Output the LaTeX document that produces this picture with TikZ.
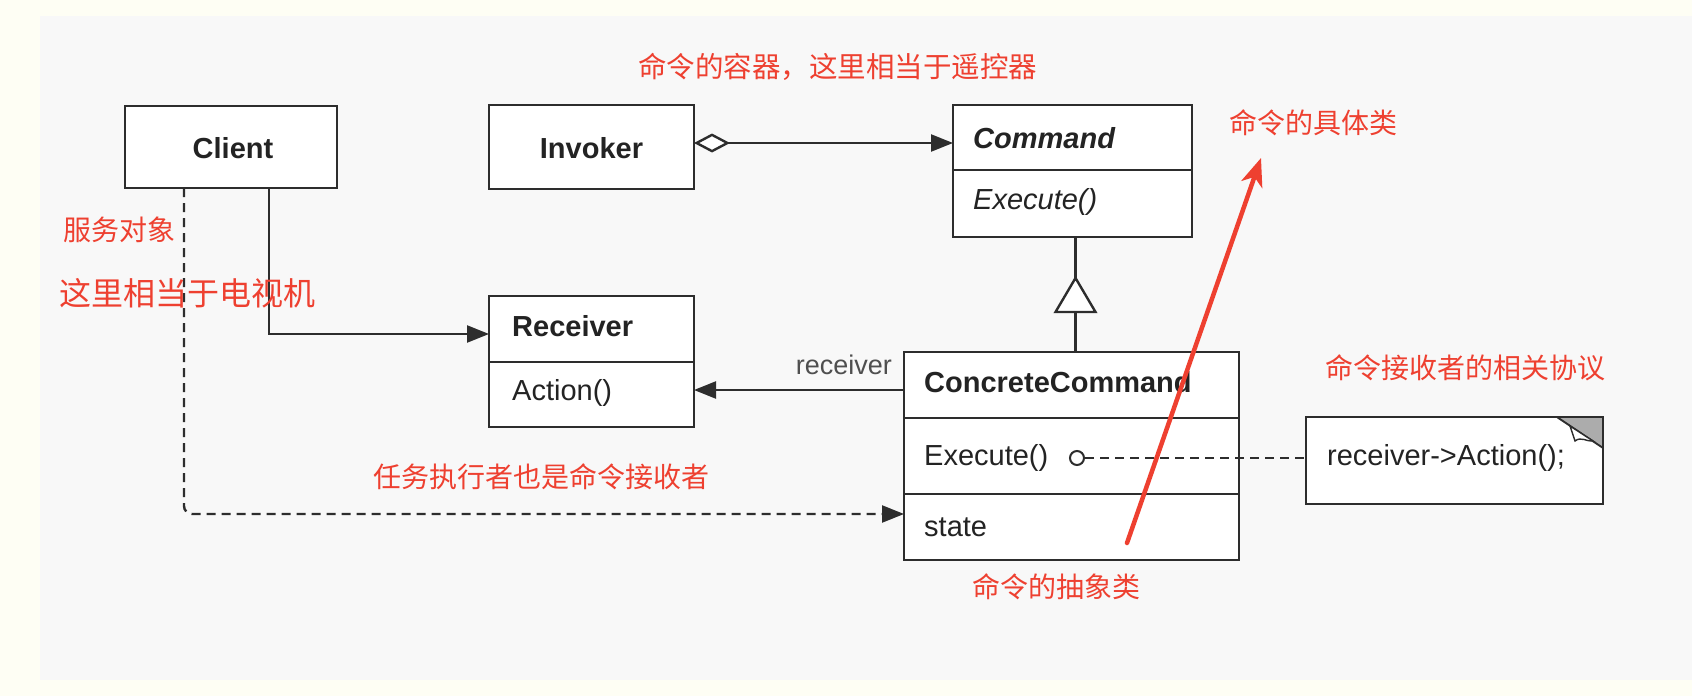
\documentclass[tikz,border=0pt]{standalone}
\usepackage{fontspec}
\setmainfont{Liberation Sans}
\newfontfamily\cjk{Noto Sans CJK SC}
\usetikzlibrary{arrows.meta,calc}
\definecolor{cream}{RGB}{254,254,244}
\definecolor{panel}{RGB}{248,248,248}
\definecolor{umlline}{RGB}{45,45,45}
\definecolor{umltext}{RGB}{35,35,35}
\definecolor{notered}{RGB}{238,64,48}
\definecolor{eargray}{RGB}{172,172,172}
\begin{document}
\begin{tikzpicture}[x=1pt,y=-1pt,
  cls/.style={draw=umlline,line width=2.4pt,fill=white,inner sep=0pt,outer sep=0pt,anchor=north west},
  lbl/.style={inner sep=0pt,anchor=west,text=umltext,font=\fontsize{29}{32}\selectfont},
  lblb/.style={inner sep=0pt,anchor=west,text=umltext,font=\bfseries\fontsize{29}{32}\selectfont},
  cn/.style={inner sep=0pt,anchor=west,text=notered,font=\cjk\fontsize{28}{32}\selectfont},
  conn/.style={draw=umlline,line width=2.4pt},
  nav/.style={-{Triangle[length=22pt,width=17pt]}},
  dsh/.style={dash pattern=on 9pt off 6pt},
]
\fill[cream] (0,0) rectangle (1692,696);
\fill[panel] (40,16) rectangle (1692,680);
\useasboundingbox (0,0) rectangle (1692,696);

% classes
\node[cls,minimum width=212pt,minimum height=82pt] (client) at (125,106) {};
\node[lblb,anchor=center] at ($(client.center)+(2,1)$) {Client};

\node[cls,minimum width=205pt,minimum height=84pt] (invoker) at (489,105) {};
\node[lblb,anchor=center] at ($(invoker.center)+(0,1)$) {Invoker};

\node[cls,minimum width=239pt,minimum height=132pt] (command) at (953,105) {};
\draw[conn] ($(command.north west)+(0,65)$) -- ($(command.north east)+(0,65)$);
\node[lblb,font=\bfseries\itshape\fontsize{29}{32}\selectfont] at ($(command.north west)+(20,33)$) {Command};
\node[lbl,font=\itshape\fontsize{29}{32}\selectfont] at ($(command.north west)+(20,97)$) {Execute()};

\node[cls,minimum width=205pt,minimum height=131pt] (receiver) at (489,296) {};
\draw[conn] ($(receiver.north west)+(0,66)$) -- ($(receiver.north east)+(0,66)$);
\node[lblb] at ($(receiver.north west)+(23,30)$) {Receiver};
\node[lbl] at ($(receiver.north west)+(23,97)$) {Action()};

\node[cls,minimum width=335pt,minimum height=208pt] (concrete) at (904,352) {};
\draw[conn] ($(concrete.north west)+(0,66)$) -- ($(concrete.north east)+(0,66)$);
\draw[conn] ($(concrete.north west)+(0,142)$) -- ($(concrete.north east)+(0,142)$);
\node[lblb] at ($(concrete.north west)+(20,30)$) {ConcreteCommand};
\node[lbl] at ($(concrete.north west)+(20,106)$) {Execute()};
\node[lbl] at ($(concrete.north west)+(20,175)$) {state};

% note
\node[cls,minimum width=297pt,minimum height=87pt] (note) at (1306,417) {};
\fill[eargray] ($(note.north east)+(-46,1.2)$) -- ($(note.north east)+(-1.2,1.2)$) -- ($(note.north east)+(-1.2,31)$) -- cycle;
\draw[umlline,line width=1.8pt] ($(note.north east)+(-46,0)$) -- ($(note.north east)+(0,31)$);
\draw[umlline,line width=1.4pt,fill=white] ($(note.north east)+(-33,9)$) -- ($(note.north east)+(-28,24)$)
  .. controls ($(note.north east)+(-22,19)$) and ($(note.north east)+(-16,25)$) .. ($(note.north east)+(-10,24)$) -- cycle;
\node[lbl] at ($(note.north west)+(21,41)$) {receiver->Action();};

% connectors
\draw[conn,{Diamond[fill=white,length=36pt,width=19pt]}-{Triangle[length=22pt,width=17pt]}]
  ($(invoker.east)+(0,-4)$) -- ($(command.west |- invoker.east)+(0,-4)$);

\draw[conn] ($(command.south)+(3,0)$) -- ($(concrete.north -| command.south)+(3,0)$);
\coordinate (gtop) at ($(command.south)+(3,41)$);
\draw[conn,fill=white] (gtop) -- ++(-20,34) -- ++(40,0) -- cycle;

\draw[conn,nav] ($(client.south east)+(-68,0)$) |- ($(receiver.north west)+(0,38)$);

\draw[conn,nav] ($(concrete.north west)+(0,38)$) -- ($(receiver.east |- concrete.north west)+(0,38)$);
\node[inner sep=0pt,anchor=east,text=umltext!80,font=\fontsize{27}{30}\selectfont] at ($(concrete.north west)+(-12,13)$) {receiver};

\draw[conn,dsh,rounded corners=8pt,nav] ($(client.south west)+(59,0)$) |- ($(concrete.south west)+(0,-46)$);

\node[circle,draw=umlline,line width=2pt,fill=white,minimum size=14pt,inner sep=0pt] (lol) at ($(concrete.north west)+(173,106)$) {};
\draw[conn,dsh] (lol.east) -- (note.west |- lol.east);

% annotations
\node[cn,font=\cjk\fontsize{28.5}{32}\selectfont] at (638,67) {命令的容器，这里相当于遥控器};
\node[cn] at (1229,123) {命令的具体类};
\node[cn] at (63,230) {服务对象};
\node[cn,font=\cjk\fontsize{32}{36}\selectfont] at (59,293) {这里相当于电视机};
\node[cn] at (1325,368) {命令接收者的相关协议};
\node[cn] at (373,477) {任务执行者也是命令接收者};
\node[cn] at (972,587) {命令的抽象类};

\coordinate (redfrom) at (1127,543);
\coordinate (redto) at (1261,158);
\draw[notered,line width=4.5pt,line cap=round,-{Stealth[length=28pt,width=22pt,inset=8pt]}] (redfrom) -- (redto);
\end{tikzpicture}
\end{document}
